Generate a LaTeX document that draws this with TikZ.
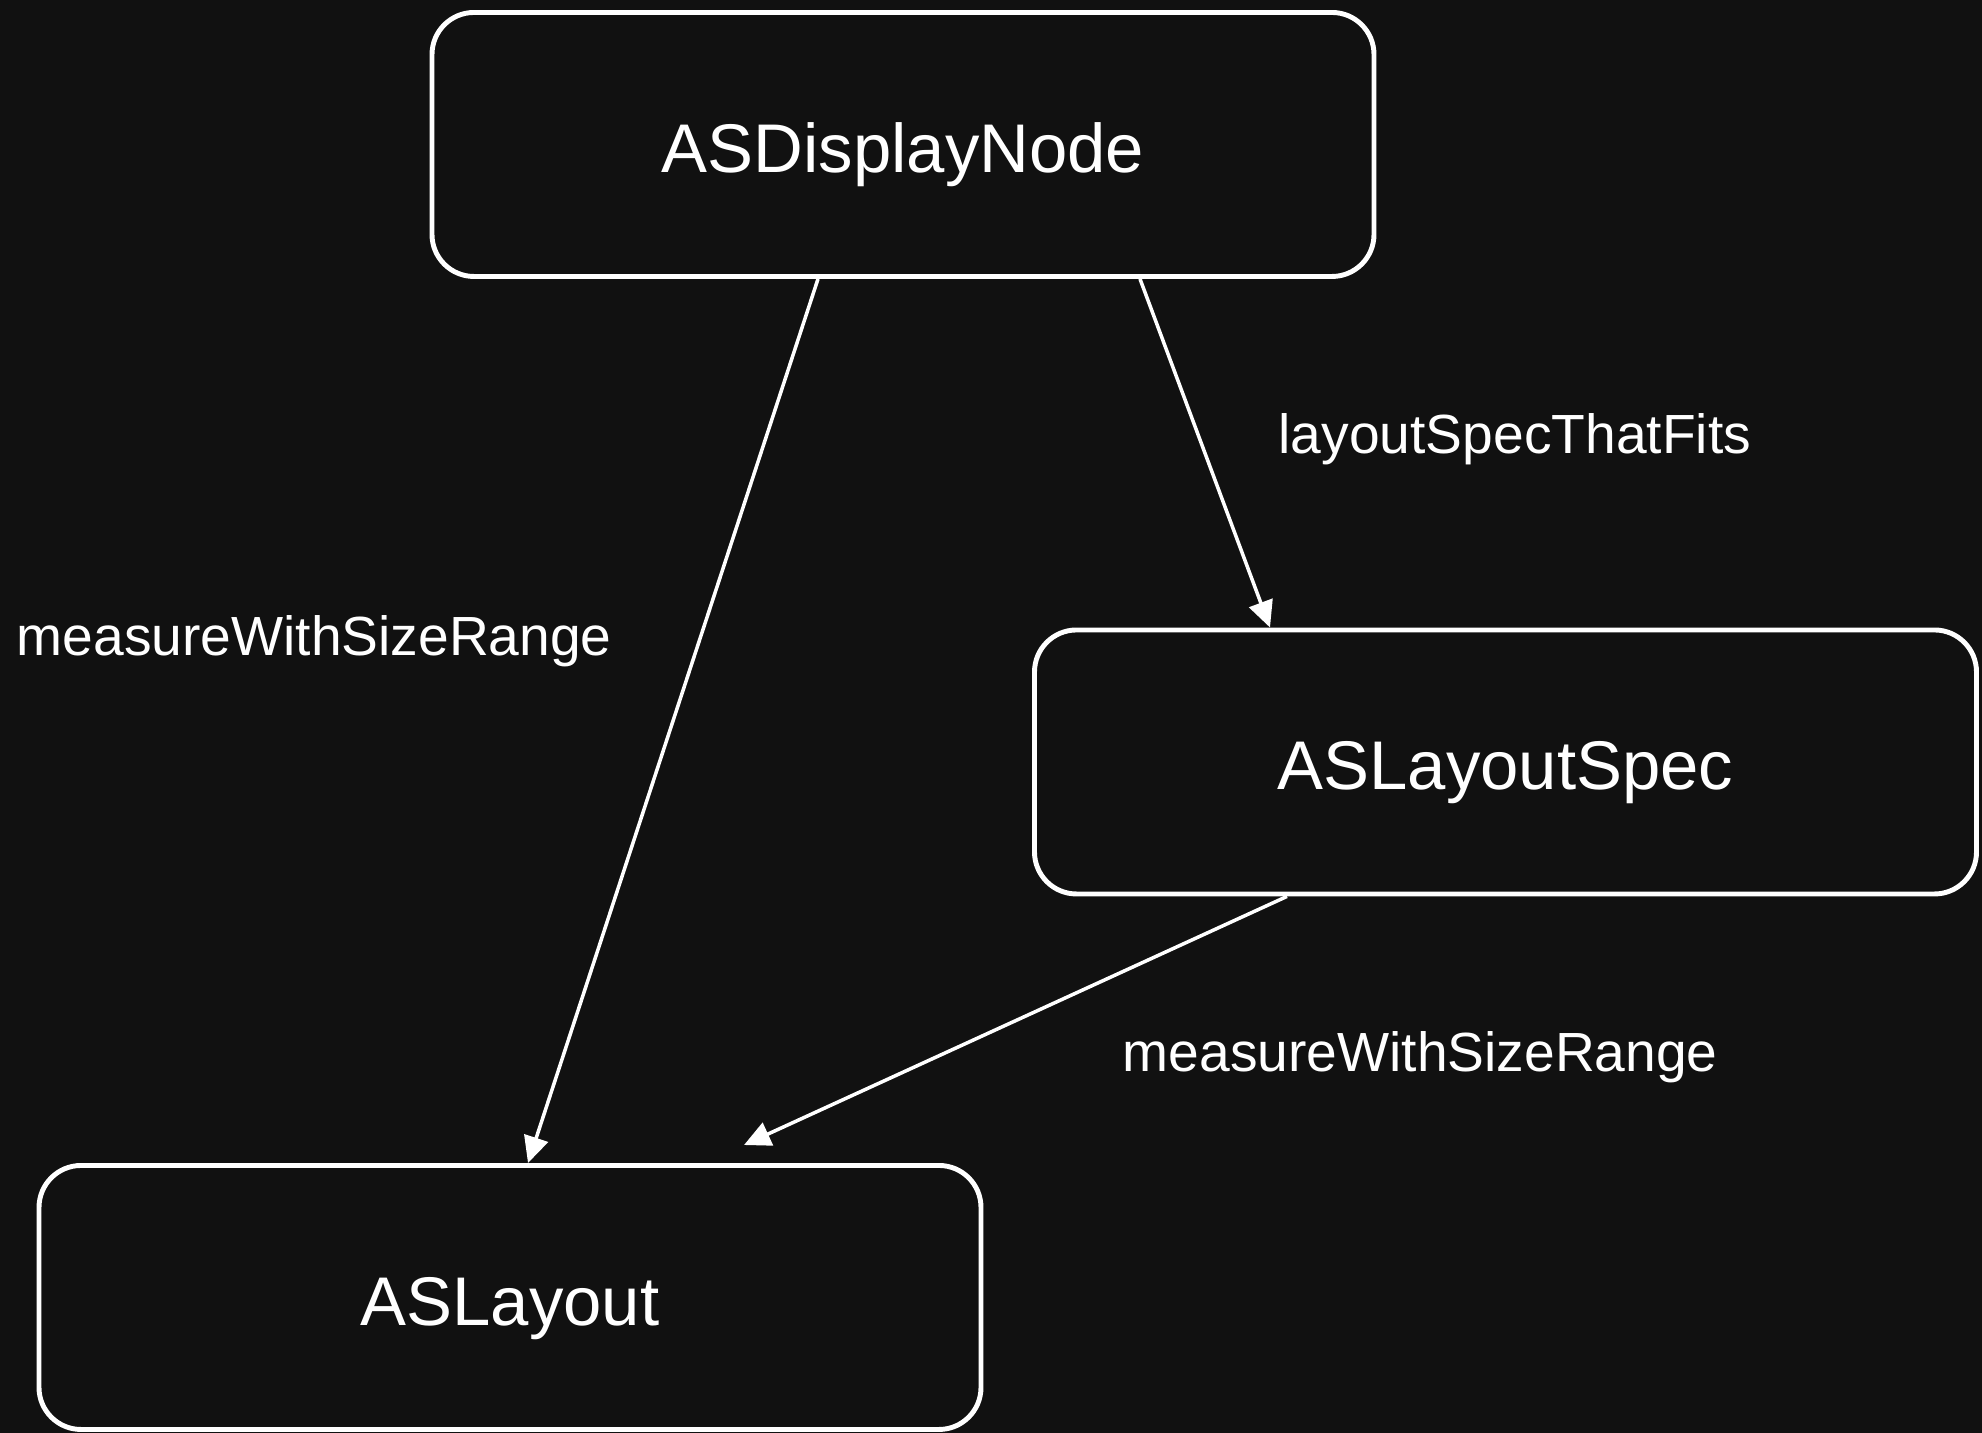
\documentclass[tikz,border=0pt]{standalone}
\usepackage{fontspec}
\setmainfont{Liberation Sans}
\usetikzlibrary{arrows.meta}
\definecolor{bgdark}{RGB}{17,17,17}
\begin{document}
\begin{tikzpicture}[
        classbox/.style = {draw=white, line width=1.4pt, rounded corners=0.42cm,
            minimum width=9.42cm, minimum height=2.64cm, text=white,
            font=\fontsize{19.6}{24}\selectfont, text height=15.7pt, text depth=0pt},
        msglabel/.style = {text=white, font=\fontsize{15.7}{19}\selectfont,
            anchor=base west, inner sep=0pt},
        call/.style = {draw=white, line width=1pt,
            -{Triangle[length=7.5pt,width=7pt]}}]
            \fill[bgdark] (0,0) rectangle (19.82,14.33);
            \node[classbox] (disp) at (9.03,12.885) {ASDisplayNode};
            \node[classbox] (spec) at (15.055,6.71) {ASLayoutSpec};
            \node[classbox] (lay) at (5.10,1.355) {ASLayout};
            \draw[call] ([xshift=-0.85cm]disp.south) -- ([xshift=0.18cm]lay.north);
            \draw[call] ([xshift=2.37cm]disp.south) -- ([xshift=-2.355cm]spec.north);
            \draw[call] ([xshift=-2.185cm]spec.south) -- ([xshift=2.34cm,yshift=0.18cm]lay.north);
            \node[msglabel] (fits) at (12.78,9.79) {layoutSpecThatFits};
            \node[msglabel] (measa) at (0.16,7.77) {measureWithSizeRange};
            \node[msglabel] (measb) at (11.22,3.61) {measureWithSizeRange};
        \end{tikzpicture}
\end{document}
